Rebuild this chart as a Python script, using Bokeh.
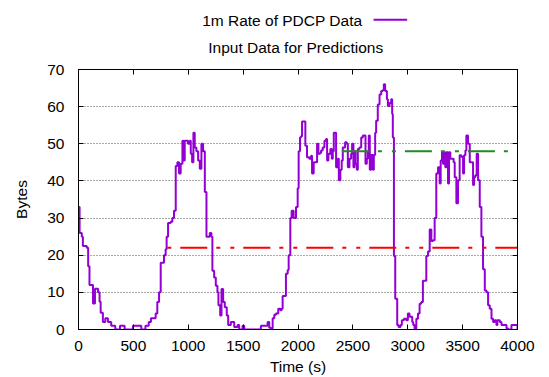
from bokeh.plotting import figure
from bokeh.layouts import column
from bokeh.models import Range1d, LinearAxis, SingleIntervalTicker, CustomJSTickFormatter, Label
from bokeh.embed import file_html
from bokeh.resources import INLINE

# ---- data ----
time_s = [0, 10, 30, 40, 75, 88, 100, 122, 132, 150, 165, 178, 192, 202, 222, 244, 268, 298, 335, 378,
          420, 496, 542, 572, 610, 640, 660, 690, 703, 718, 734, 749, 764, 779, 794, 803, 816, 840, 855, 870,
          886, 901, 916, 931, 947, 956, 968, 986, 998, 1014, 1023, 1035, 1047, 1059, 1074, 1090, 1105, 1120, 1135, 1151,
          1166, 1181, 1196, 1211, 1220, 1236, 1251, 1266, 1275, 1291, 1303, 1318, 1333, 1351, 1364, 1388, 1419, 1449, 1464, 1495,
          1510, 1662, 1708, 1723, 1738, 1753, 1769, 1784, 1799, 1820, 1839, 1851, 1860, 1875, 1890, 1906, 1915, 1930, 1942, 1960,
          1973, 1982, 1997, 2006, 2018, 2027, 2037, 2058, 2067, 2082, 2103, 2119, 2128, 2143, 2155, 2174, 2186, 2201, 2210, 2225,
          2241, 2256, 2265, 2277, 2295, 2308, 2317, 2326, 2338, 2347, 2362, 2372, 2386, 2398, 2408, 2429, 2444, 2454, 2469, 2484,
          2493, 2505, 2515, 2524, 2536, 2545, 2560, 2576, 2591, 2606, 2615, 2627, 2636, 2645, 2654, 2667, 2682, 2691, 2703, 2712,
          2727, 2743, 2758, 2773, 2782, 2794, 2810, 2819, 2834, 2849, 2858, 2864, 2874, 2886, 2904, 2916, 2934, 2946, 2965, 2986,
          3001, 3016, 3032, 3041, 3050, 3062, 3078, 3093, 3108, 3123, 3138, 3160, 3169, 3184, 3200, 3215, 3230, 3245, 3260, 3276,
          3291, 3300, 3312, 3321, 3330, 3342, 3352, 3367, 3376, 3388, 3403, 3418, 3428, 3443, 3458, 3473, 3488, 3504, 3513, 3525,
          3534, 3549, 3565, 3580, 3595, 3604, 3616, 3628, 3641, 3656, 3671, 3686, 3702, 3717, 3732, 3747, 3763, 3778, 3793, 3808,
          3817, 3839, 3854, 3884, 3900, 3915, 3945, 3991, 4000]
pdcp_rate = [33, 26, 25, 22.5, 22, 17, 12, 12, 7, 11, 11, 10, 7.5, 4.5, 2, 3, 2, 1, 0, 1,
             0, 1, 1, 0, 1, 2, 3, 3, 4.3, 7.4, 10, 18, 18, 20, 21.6, 25, 28.7, 29, 30, 32,
             44, 45, 42, 44.6, 50.8, 45.5, 50.8, 50.8, 50, 50.8, 47.3, 45, 53, 49, 48, 45.5, 43.3, 50, 48, 37,
             25, 25, 26, 25, 15.8, 14, 11.8, 10, 6.5, 3.8, 10.9, 7.4, 6, 3.8, 1.2, 2, 0.7, 1.2, 0, 1,
             0, 1, 1, 2, 0.5, 0.3, 3, 4, 4.3, 5.6, 5.2, 5.6, 9, 9, 15, 16, 20, 30, 32, 30,
             30, 33, 38, 48, 51.7, 52, 56, 56, 49.5, 46.4, 46, 46.8, 42, 45, 45, 50, 47.3, 47.5, 48.2, 49,
             50.8, 51.3, 45.5, 47.3, 48.6, 46, 48, 53, 53, 43.7, 46, 40.2, 43, 45.5, 49, 50.4, 50, 43.7, 46, 47.3,
             50, 43.7, 48, 44.6, 43, 48.6, 49, 51.7, 52.2, 52.2, 44.6, 46, 48, 52.2, 43, 47, 43, 47, 53, 56.2,
             60.6, 63.3, 64.2, 64.5, 66, 64.2, 62, 60.2, 61, 62, 58, 51.7, 19.8, 8.3, 1.2, 0.7, 1.2, 2.5, 2.9, 2.5,
             4.3, 3.4, 3.4, 2, 1.2, 0.3, 2.9, 4.3, 6.9, 7.4, 13.1, 13.1, 19.8, 21, 26.9, 23.8, 24, 30, 42, 43.7,
             39.3, 45.5, 47.7, 44.6, 47.7, 43.7, 47.7, 39.3, 47.7, 46, 46, 45, 41, 34, 40.2, 46.9, 46.5, 42, 46.9, 48.2,
             52.2, 50, 45, 45, 38.9, 41, 41.5, 47.3, 40.2, 33, 25, 16.2, 10.5, 10, 6.5, 5.6, 2.9, 2, 2.5, 1.2,
             2.5, 2, 1.2, 1.2, 0.3, 0, 1.2, 1.2, 0]

red_level_x = [800, 4000]
red_level_y = [22, 22]
green_level_x = [2400, 4000]
green_level_y = [48, 48]

x_ticks_step = 500
y_ticks_step = 10

legend_label = "1m Rate of PDCP Data"
title_text = "Input Data for Predictions"

FONT = "Liberation Sans"
FS = "15.5px"
PURPLE = "#9400D3"

HEADER_H = 56

# ---- header (key + title) ----
hdr = figure(width=549, height=HEADER_H, output_backend="svg", toolbar_location=None,
             x_range=Range1d(0, 549), y_range=Range1d(HEADER_H, 0),
             x_axis_type=None, y_axis_type=None, min_border=0)
hdr.outline_line_color = None
hdr.grid.grid_line_color = None
hdr.background_fill_color = "white"
hdr.border_fill_color = "white"
hdr.add_layout(Label(x=355, y=20, text=legend_label, text_align="right", text_baseline="middle",
                     text_font=FONT, text_font_size=FS, text_color="black"))
hdr.line([369, 411], [19.2, 19.2], line_color=PURPLE, line_width=2)
hdr.add_layout(Label(x=381, y=46.5, text=title_text, text_align="right", text_baseline="middle",
                     text_font=FONT, text_font_size=FS, text_color="black"))

# ---- main plot ----
p = figure(width=549, height=377 - HEADER_H, output_backend="svg", toolbar_location=None,
           x_range=Range1d(0, 4000), y_range=Range1d(0, 70),
           min_border_left=78, min_border_right=32, min_border_top=69 - HEADER_H, min_border_bottom=46)

p.background_fill_color = "white"
p.border_fill_color = "white"
p.outline_line_color = "black"
p.outline_line_width = 1

p.xgrid.grid_line_color = None
p.ygrid.grid_line_color = "#555555"
p.ygrid.grid_line_dash = "1 2"
p.ygrid.grid_line_width = 1
p.ygrid.ticker = SingleIntervalTicker(interval=y_ticks_step)

for ax, step in ((p.xaxis[0], x_ticks_step), (p.yaxis[0], y_ticks_step)):
    ax.ticker = SingleIntervalTicker(interval=step)
    ax.major_tick_in = 5
    ax.major_tick_out = 0
    ax.minor_tick_line_color = None
    ax.axis_line_color = "black"
    ax.major_tick_line_color = "black"
    ax.major_label_text_font = FONT
    ax.major_label_text_font_size = FS
    ax.major_label_text_color = "black"
    ax.axis_label_text_font = FONT
    ax.axis_label_text_font_size = FS
    ax.axis_label_text_font_style = "normal"
    ax.axis_label_text_color = "black"

p.xaxis.axis_label = "Time (s)"
p.yaxis.axis_label = "Bytes"
p.xaxis.major_label_standoff = 7
p.yaxis.major_label_standoff = 10
p.xaxis.axis_label_standoff = 4
p.yaxis.axis_label_standoff = 14

# mirrored ticks on top and right
blank = CustomJSTickFormatter(code="return ''")
top_ax = LinearAxis(ticker=SingleIntervalTicker(interval=x_ticks_step), formatter=blank,
                    major_tick_in=5, major_tick_out=0, minor_tick_line_color=None,
                    axis_line_color="black", major_label_standoff=0,
                    major_label_text_font_size="1px")
right_ax = LinearAxis(ticker=SingleIntervalTicker(interval=y_ticks_step), formatter=blank,
                      major_tick_in=5, major_tick_out=0, minor_tick_line_color=None,
                      axis_line_color="black", major_label_standoff=0,
                      major_label_text_font_size="1px")
p.add_layout(top_ax, "above")
p.add_layout(right_ax, "right")

# series
p.step(time_s, pdcp_rate, mode="after", line_color=PURPLE, line_width=2)
p.line(red_level_x, red_level_y, line_color="#FF0000", line_width=2,
       line_dash="27 9 4 10 4 9", line_dash_offset=49)
p.line(green_level_x, green_level_y, line_color="#228B22", line_width=2,
       line_dash="27 9 4 10 4 9", line_dash_offset=0)

layout = column(hdr, p, spacing=0)
open("out.html", "w").write(file_html(layout, INLINE))
